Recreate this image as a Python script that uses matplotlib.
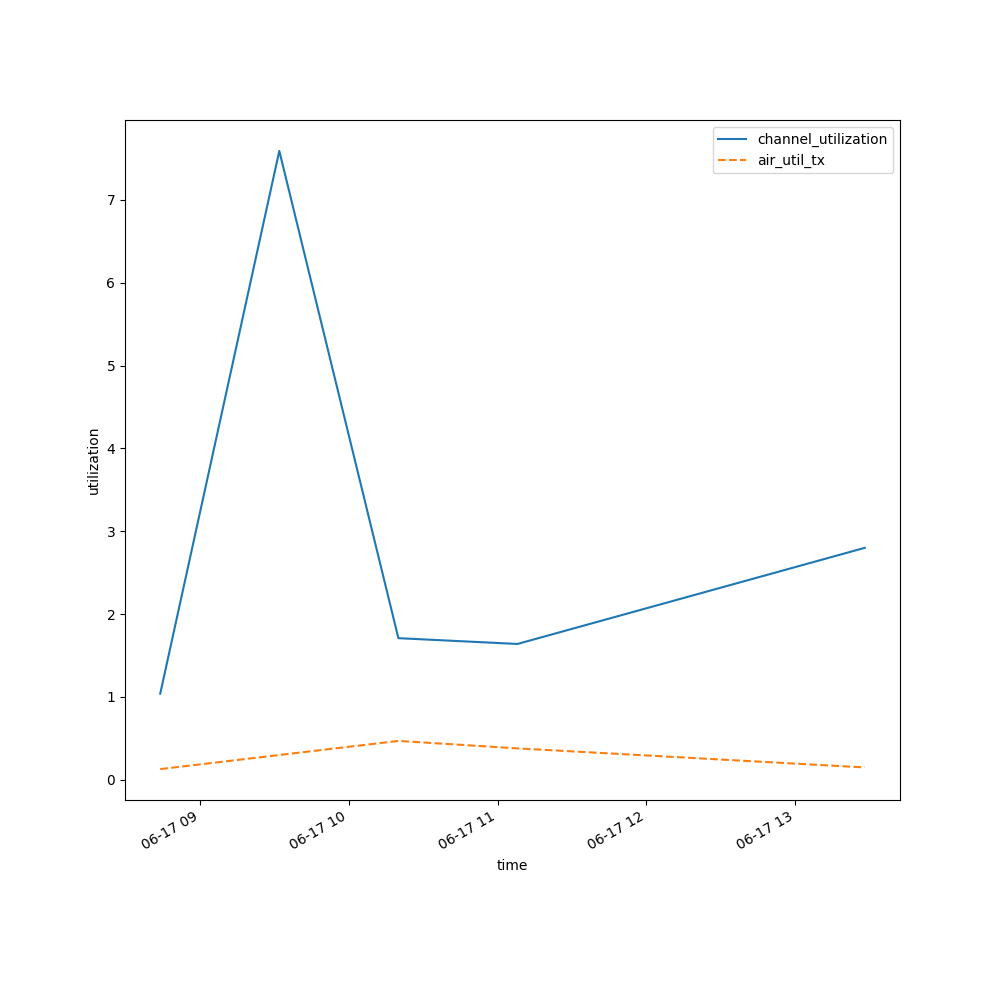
import matplotlib
matplotlib.use('Agg')
import matplotlib.pyplot as plt
import pandas as pd

times = pd.to_datetime(['2024-06-17 08:44', '2024-06-17 09:32', '2024-06-17 10:20',
                        '2024-06-17 11:08', '2024-06-17 13:28'])
channel_utilization = [1.04, 7.59, 1.71, 1.64, 2.80]
air_util_tx = [0.13, 0.30, 0.47, 0.38, 0.15]

fig, ax = plt.subplots(figsize=(10, 10), dpi=100)
ax.plot(times, channel_utilization, '-', label='channel_utilization')
ax.plot(times, air_util_tx, '--', label='air_util_tx')
ax.set_xlabel('time')
ax.set_ylabel('utilization')
ax.legend()
fig.autofmt_xdate()
fig.savefig('out.png')
